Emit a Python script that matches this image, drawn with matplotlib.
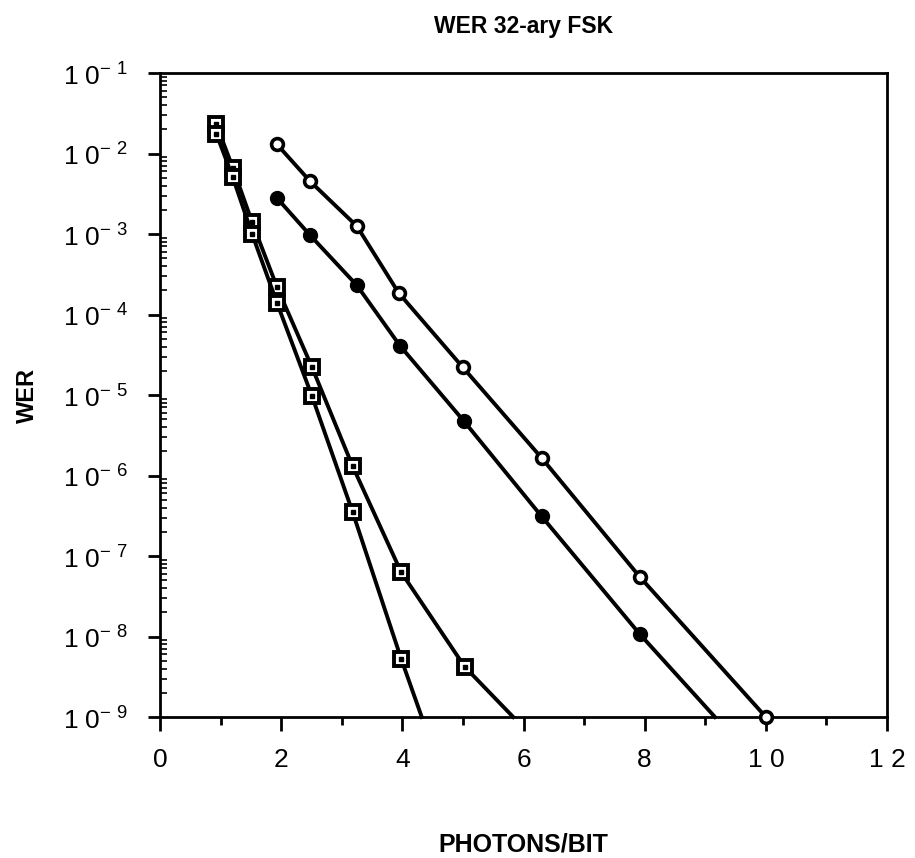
import matplotlib
matplotlib.use("Agg")
import matplotlib.pyplot as plt
from matplotlib.ticker import LogLocator, NullFormatter, FixedLocator

plt.rcParams['font.family'] = ['Liberation Sans', 'DejaVu Sans']
plt.rcParams['mathtext.fontset'] = 'custom'
plt.rcParams['mathtext.rm'] = 'Liberation Sans'

# squares, upper curve
sq_hi_x = [0.93, 1.2, 1.52, 1.93, 2.51, 3.18, 3.98, 5.03, 5.83]
sq_hi_y = [2.3e-2, 6.7e-3, 1.4e-3, 2.2e-4, 2.2e-5, 1.3e-6, 6.3e-8, 4.2e-9, 1e-9]
# squares, lower curve
sq_lo_x = [0.93, 1.2, 1.52, 1.93, 2.51, 3.18, 3.98, 4.32]
sq_lo_y = [1.75e-2, 5.1e-3, 1.0e-3, 1.4e-4, 9.6e-6, 3.5e-7, 5.3e-9, 1e-9]
# open circles
oc_x = [1.93, 2.48, 3.25, 3.94, 5.0, 6.3, 7.92, 10.0]
oc_y = [1.3e-2, 4.5e-3, 1.25e-3, 1.85e-4, 2.2e-5, 1.65e-6, 5.5e-8, 1e-9]
# filled circles
fc_x = [1.93, 2.48, 3.25, 3.96, 5.02, 6.3, 7.92, 9.16]
fc_y = [2.8e-3, 9.6e-4, 2.3e-4, 4.1e-5, 4.7e-6, 3.1e-7, 1.07e-8, 1e-9]

x_ticks = [0, 2, 4, 6, 8, 10, 12]
x_labels = ['0', '2', '4', '6', '8', '1 0', '1 2']
y_exps = [-1, -2, -3, -4, -5, -6, -7, -8, -9]

fig = plt.figure(figsize=(9.15, 8.58), dpi=100)
ax = fig.add_axes([0.1749, 0.1643, 0.7945, 0.7506])

lw = 2.8
for xs, ys in [(sq_hi_x, sq_hi_y), (sq_lo_x, sq_lo_y)]:
    n = len(xs) - 1
    ax.plot(xs, ys, color='black', lw=lw, clip_on=False, zorder=3,
            marker='s', markersize=10, markerfacecolor='white',
            markeredgecolor='black', markeredgewidth=2.8,
            markevery=list(range(n)))
    ax.plot(xs[:n], ys[:n], ls='none', marker='s', markersize=2.2,
            color='black', zorder=4)

ax.plot(oc_x, oc_y, color='black', lw=lw, clip_on=False, zorder=3,
        marker='o', markersize=8.5, markerfacecolor='white',
        markeredgecolor='black', markeredgewidth=2.6)
ax.plot(fc_x, fc_y, color='black', lw=lw, clip_on=False, zorder=3,
        marker='o', markersize=10, markerfacecolor='black',
        markeredgecolor='black', markevery=list(range(len(fc_x) - 1)))

ax.set_yscale('log')
ax.set_xlim(0, 12)
ax.set_ylim(1e-9, 1e-1)

ax.xaxis.set_major_locator(FixedLocator(x_ticks))
ax.set_xticklabels(x_labels)
ax.xaxis.set_minor_locator(FixedLocator([1, 3, 5, 7, 9, 11]))

ax.yaxis.set_major_locator(FixedLocator([10.0 ** e for e in y_exps]))
ax.set_yticklabels([r'1 0$^{\mathregular{-\ %d}}$' % (-e) for e in y_exps])
ax.yaxis.set_minor_locator(LogLocator(base=10, subs=range(2, 10), numticks=20))
ax.yaxis.set_minor_formatter(NullFormatter())

ax.tick_params(axis='x', which='major', direction='out', length=10, width=2,
               labelsize=19, pad=12)
ax.tick_params(axis='x', which='minor', direction='out', length=6, width=2)
ax.tick_params(axis='y', which='major', direction='out', length=9, width=2,
               labelsize=19, pad=14)
ax.tick_params(axis='y', which='minor', direction='in', length=5, width=1.2)

for s in ax.spines.values():
    s.set_linewidth(2)

ax.set_title('WER 32-ary FSK', fontsize=16.5, fontweight='bold', pad=29)
ax.set_ylabel('WER', fontsize=17, fontweight='bold')
ax.yaxis.set_label_coords(-0.166, 0.5)
fig.text(0.5716, 0.008, 'PHOTONS/BIT', fontsize=18, fontweight='bold',
         ha='center')

fig.savefig('out.png', dpi=100)
